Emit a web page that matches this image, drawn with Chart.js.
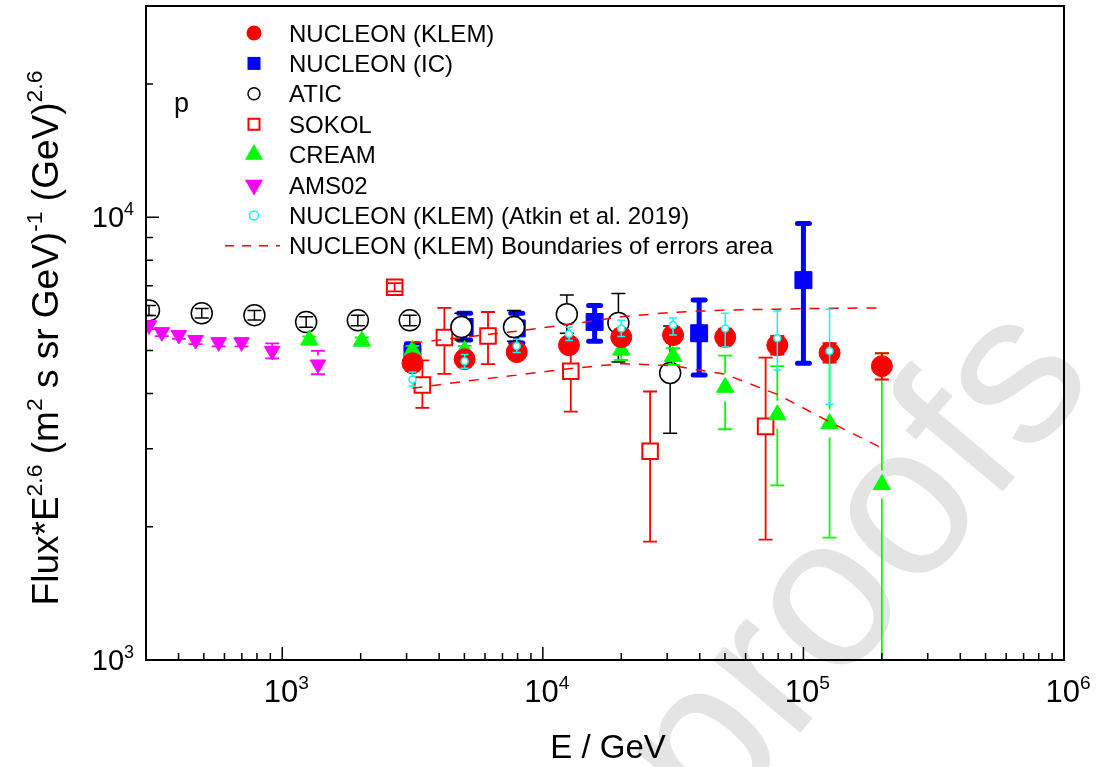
<!DOCTYPE html>
<html>
<head>
<meta charset="utf-8">
<script src="https://cdn.jsdelivr.net/npm/chart.js@4/dist/chart.umd.min.js"></script>
<style>
  html, body { margin: 0; padding: 0; background: #fff; }
</style>
</head>
<body>
<canvas id="fluxChart" width="1101" height="767"></canvas>
<script>
// energies in GeV, flux*E^2.6
const energyKlem = [3160, 5010, 7940, 12600, 20000, 31600, 50100, 79400, 126000, 200000];
const fluxKlem = [4680, 4780, 4960, 5140, 5360, 5420, 5360, 5140, 4940, 4610];
const klemLow = [4500, 4600, 4780, 4950, 5150, 5200, 5130, 4900, 4700, 4300];
const klemHigh = [4860, 4960, 5150, 5340, 5580, 5650, 5600, 5390, 5190, 4930];

const energyIc = [3160, 5010, 7940, 15800, 39800, 100000];
const fluxIc = [4930, 5650, 5610, 5800, 5470, 7210];
const icLow = [4700, 5280, 5200, 5250, 4400, 4680];
const icHigh = [5180, 6070, 6070, 6320, 6500, 9680];

const energyAtic = [308, 491, 782, 1235, 1950, 3085, 4870, 7750, 12360, 19500, 30800];
const fluxAtic = [6160, 6070, 6010, 5800, 5850, 5850, 5650, 5650, 6040, 5770, 4450];
const aticLow = [6000, 5920, 5860, 5640, 5690, 5690, 5280, 5250, 5470, 4710, 3250];
const aticHigh = [6320, 6220, 6160, 5960, 6010, 6010, 6070, 6160, 6670, 6730, 5680];

const energySokol = [2700, 3450, 4190, 6160, 12800, 25800, 71600];
const fluxSokol = [6950, 4180, 5350, 5390, 4490, 2960, 3370];
const sokolLow = [6800, 3710, 4430, 4660, 3640, 1850, 1870];
const sokolHigh = [7100, 4750, 6240, 6110, 5100, 4040, 4820];

const energyCream = [1270, 2020, 3160, 5010, 20000, 31600, 50100, 79400, 126000, 200000];
const fluxCream = [5280, 5250, 5010, 5000, 5010, 4850, 4130, 3580, 3420, 2490];
const creamLow = [5180, 5150, 4900, 4900, 4760, 4640, 3320, 2480, 1890, 700];
const creamHigh = [5380, 5350, 5120, 5120, 5270, 5060, 4870, 4610, 4750, 4930];

const energyAms = [308, 345, 401, 465, 570, 698, 915, 1372];
const fluxAms = [5700, 5500, 5420, 5280, 5220, 5220, 4990, 4650];
const amsLow = [5590, 5390, 5310, 5170, 5110, 5110, 4800, 4420];
const amsHigh = [5810, 5610, 5530, 5390, 5330, 5330, 5190, 4990];

const energyAtkin = [3160, 5010, 7940, 12600, 20000, 31600, 50100, 79400, 126000];
const fluxAtkin = [4300, 4730, 5120, 5450, 5610, 5710, 5610, 5330, 4990];
const atkinLow = [4160, 4560, 4950, 5270, 5380, 5420, 5090, 4520, 3780];
const atkinHigh = [4470, 4900, 5300, 5640, 5850, 5920, 6070, 6140, 6200];

const upperBound = [5200, 5360, 5530, 5730, 5960, 6100, 6170, 6200, 6230, 6240];
const lowerBound = [4110, 4260, 4400, 4550, 4670, 4620, 4420, 3980, 3450, 3010];

const xMajorTicks = [1e3, 1e4, 1e5, 1e6];
const yMajorTicks = [1e3, 1e4];

const FONT = 'Arial, "Liberation Sans", sans-serif';
const NARROW = '"Liberation Sans Narrow", "Arial Narrow", Arial, sans-serif';

function pts(xs, ys) {
  return xs.map((x, i) => ({ x: x, y: ys[i] }));
}

// text with superscripts: parts = [[text, isSup], ...]
function richWidth(ctx, parts, size, family) {
  let w = 0;
  parts.forEach(p => {
    ctx.font = (p[1] ? size * 0.62 : size) + 'px ' + family;
    w += ctx.measureText(p[0]).width;
  });
  return w;
}
function drawRich(ctx, parts, x, y, size, align, family) {
  const w = richWidth(ctx, parts, size, family);
  let cx = align === 'center' ? x - w / 2 : align === 'right' ? x - w : x;
  ctx.textAlign = 'left';
  ctx.textBaseline = 'alphabetic';
  parts.forEach(p => {
    const s = p[1] ? size * 0.62 : size;
    ctx.font = s + 'px ' + family;
    ctx.fillText(p[0], cx, p[1] ? y - size * 0.42 : y);
    cx += ctx.measureText(p[0]).width;
  });
}

function drawMarker(ctx, m, x, y) {
  ctx.beginPath();
  if (m.style === 'circle') {
    ctx.arc(x, y, m.r, 0, Math.PI * 2);
  } else if (m.style === 'rect') {
    ctx.rect(x - m.r, y - m.r, 2 * m.r, 2 * m.r);
  } else {
    const s = m.down ? -1 : 1;
    ctx.moveTo(x, y - s * m.r);
    ctx.lineTo(x + m.r * 0.866, y + s * m.r / 2);
    ctx.lineTo(x - m.r * 0.866, y + s * m.r / 2);
    ctx.closePath();
  }
  ctx.fillStyle = m.fill;
  ctx.fill();
  if (m.lw) {
    ctx.lineWidth = m.lw;
    ctx.strokeStyle = m.stroke;
    ctx.stroke();
  }
}

// light watermark behind the plot
const watermarkPlugin = {
  id: 'watermark',
  beforeDraw(chart) {
    const ctx = chart.ctx;
    ctx.save();
    ctx.fillStyle = '#fff';
    ctx.fillRect(0, 0, chart.width, chart.height);
    ctx.translate(1098, 378);
    ctx.rotate(-50 * Math.PI / 180);
    ctx.font = '215px ' + FONT;
    ctx.fillStyle = '#e4e4e4';
    ctx.textAlign = 'right';
    ctx.fillText('Journal Pre-proofs', 0, 0);
    ctx.restore();
  }
};

// vertical error bars with caps, drawn right after each dataset
const errorBarPlugin = {
  id: 'errorBars',
  afterDatasetDraw(chart, args) {
    const ds = chart.data.datasets[args.index];
    if (!ds.errLow) return;
    const { ctx, chartArea: a, scales: { x, y } } = chart;
    ctx.save();
    ctx.beginPath();
    ctx.rect(a.left, a.top, a.right - a.left, a.bottom - a.top);
    ctx.clip();
    ctx.strokeStyle = ds.errColor;
    ctx.lineWidth = ds.errWidth;
    ctx.lineCap = ds.errRound ? 'round' : 'butt';
    ds.data.forEach((p, i) => {
      const px = x.getPixelForValue(p.x);
      const yc = y.getPixelForValue(p.y);
      const yh = y.getPixelForValue(ds.errHigh[i]);
      const yl = y.getPixelForValue(ds.errLow[i]);
      ctx.beginPath();
      ctx.moveTo(px, yc - ds.errGap < yh ? yc : yc - ds.errGap);
      ctx.lineTo(px, yh);
      ctx.moveTo(px, yc + ds.errGap > yl ? yc : yc + ds.errGap);
      ctx.lineTo(px, yl);
      ctx.moveTo(px - ds.capHalf, yh);
      ctx.lineTo(px + ds.capHalf, yh);
      ctx.moveTo(px - ds.capHalf, yl);
      ctx.lineTo(px + ds.capHalf, yl);
      ctx.stroke();
    });
    ctx.restore();
  }
};

// frame, inward ticks, tick labels, titles and legend
const decorPlugin = {
  id: 'decor',
  afterDraw(chart) {
    const { ctx, chartArea: a, scales: { x, y } } = chart;
    ctx.save();
    ctx.strokeStyle = '#000';
    ctx.fillStyle = '#000';
    ctx.lineWidth = 2;
    ctx.strokeRect(a.left, a.top, a.right - a.left, a.bottom - a.top);

    ctx.lineWidth = 1.5;
    ctx.beginPath();
    for (let d = 100; d < 1e6; d *= 10) {
      for (let m = 1; m < 10; m++) {
        const v = d * m;
        if (v < x.min || v > x.max) continue;
        const px = x.getPixelForValue(v);
        const len = m === 1 ? 13 : 7;
        ctx.moveTo(px, a.bottom);
        ctx.lineTo(px, a.bottom - len);
      }
    }
    for (let d = 1000; d < 1e5; d *= 10) {
      for (let m = 1; m < 10; m++) {
        const v = d * m;
        if (v < y.min || v > y.max) continue;
        const py = y.getPixelForValue(v);
        const len = m === 1 ? 13 : 7;
        ctx.moveTo(a.left, py);
        ctx.lineTo(a.left + len, py);
      }
    }
    ctx.stroke();

    xMajorTicks.forEach(v => {
      const px = x.getPixelForValue(v);
      const ex = String(Math.round(Math.log10(v)));
      drawRich(ctx, [['10', false], [ex, true]], px + 4, 702, 31, 'center', NARROW);
    });
    yMajorTicks.forEach(v => {
      const py = y.getPixelForValue(v);
      const ex = String(Math.round(Math.log10(v)));
      drawRich(ctx, [['10', false], [ex, true]], 134, py + 10, 29, 'right', FONT);
    });

    drawRich(ctx, [['E / GeV', false]], 608, 758, 33, 'center', FONT);

    ctx.save();
    ctx.translate(58, 338);
    ctx.rotate(-Math.PI / 2);
    drawRich(ctx, [['Flux*E', false], ['2.6', true], [' (m', false], ['2', true],
      [' s sr GeV)', false], ['-1', true], [' (GeV)', false], ['2.6', true]], 0, 0, 37, 'center', FONT);
    ctx.restore();

    drawRich(ctx, [['p', false]], 174, 112, 27, 'left', FONT);

    // legend
    let row = 0;
    chart.data.datasets.forEach(ds => {
      if (!ds.legend) return;
      const ly = 33 + row * 30.4;
      if (ds.legend.style === 'dash') {
        ctx.save();
        ctx.strokeStyle = ds.borderColor;
        ctx.lineWidth = 1.5;
        ctx.setLineDash([9, 8]);
        ctx.beginPath();
        ctx.moveTo(225, ly);
        ctx.lineTo(280, ly);
        ctx.stroke();
        ctx.restore();
      } else {
        drawMarker(ctx, ds.legend, 254, ly);
      }
      ctx.fillStyle = '#000';
      drawRich(ctx, [[ds.label, false]], 289, ly + 8.5, 24, 'left', FONT);
      row++;
    });
    ctx.restore();
  }
};

const datasets = [
  {
    label: 'NUCLEON (KLEM)', data: pts(energyKlem, fluxKlem), order: 1,
    pointStyle: 'circle', pointRadius: 10.5, pointBackgroundColor: '#ff0000',
    pointBorderColor: '#ff0000', pointBorderWidth: 1,
    errLow: klemLow, errHigh: klemHigh, errColor: '#ff0000', errWidth: 2, errGap: 10, capHalf: 7,
    legend: { style: 'circle', r: 7.5, fill: '#ff0000' }
  },
  {
    label: 'NUCLEON (IC)', data: pts(energyIc, fluxIc), order: 6,
    pointStyle: 'rect', pointRadius: 12, pointBackgroundColor: '#0000ff',
    pointBorderColor: '#0000ff', pointBorderWidth: 1,
    errLow: icLow, errHigh: icHigh, errColor: '#0000ff', errWidth: 5, errRound: true, errGap: 8, capHalf: 6,
    legend: { style: 'rect', r: 6.5, fill: '#0000ff' }
  },
  {
    label: 'ATIC', data: pts(energyAtic, fluxAtic), order: 5,
    pointStyle: 'circle', pointRadius: 10.5, pointBackgroundColor: '#ffffff',
    pointBorderColor: '#000000', pointBorderWidth: 1.5,
    errLow: aticLow, errHigh: aticHigh, errColor: '#000000', errWidth: 1.5, errGap: 10.5, capHalf: 7,
    legend: { style: 'circle', r: 6, fill: '#ffffff', stroke: '#000', lw: 1.5 }
  },
  {
    label: 'SOKOL', data: pts(energySokol, fluxSokol), order: 7,
    pointStyle: 'rect', pointRadius: 11, pointBackgroundColor: '#ffffff',
    pointBorderColor: '#ff0000', pointBorderWidth: 2,
    errLow: sokolLow, errHigh: sokolHigh, errColor: '#ff0000', errWidth: 1.8, errGap: 8, capHalf: 7,
    legend: { style: 'rect', r: 5.5, fill: '#ffffff', stroke: '#ff0000', lw: 2 }
  },
  {
    label: 'CREAM', data: pts(energyCream, fluxCream), order: 3,
    pointStyle: 'triangle', pointRadius: 10, pointBackgroundColor: '#00ff00',
    pointBorderColor: '#00ff00', pointBorderWidth: 1,
    errLow: creamLow, errHigh: creamHigh, errColor: '#00ff00', errWidth: 1.8, errGap: 14, capHalf: 7,
    legend: { style: 'triangle', r: 10.5, fill: '#00ff00' }
  },
  {
    label: 'AMS02', data: pts(energyAms, fluxAms), order: 4,
    pointStyle: 'triangle', pointRotation: 180, pointRadius: 9, pointBackgroundColor: '#ff00ff',
    pointBorderColor: '#ff00ff', pointBorderWidth: 1,
    errLow: amsLow, errHigh: amsHigh, errColor: '#ff00ff', errWidth: 1.8, errGap: 9, capHalf: 7,
    legend: { style: 'triangle', r: 10.5, down: true, fill: '#ff00ff' }
  },
  {
    label: 'NUCLEON (KLEM) (Atkin et al. 2019)', data: pts(energyAtkin, fluxAtkin), order: 0,
    pointStyle: 'circle', pointRadius: 3.5, pointBackgroundColor: '#ffffff',
    pointBorderColor: '#00ffff', pointBorderWidth: 1.5,
    errLow: atkinLow, errHigh: atkinHigh, errColor: '#00ffff', errWidth: 1.5, errGap: 4, capHalf: 4,
    legend: { style: 'circle', r: 4.5, fill: '#ffffff', stroke: '#00ffff', lw: 1.5 }
  },
  {
    label: 'NUCLEON (KLEM) Boundaries of errors area', data: pts(energyKlem, upperBound), order: 2,
    showLine: true, pointRadius: 0, borderColor: '#ff0000', borderWidth: 1.5,
    borderDash: [10, 9], fill: false,
    legend: { style: 'dash' }
  },
  {
    label: 'lower boundary', data: pts(energyKlem, lowerBound), order: 2,
    showLine: true, pointRadius: 0, borderColor: '#ff0000', borderWidth: 1.5,
    borderDash: [10, 9], fill: false
  }
];

new Chart(document.getElementById('fluxChart'), {
  type: 'scatter',
  data: { datasets: datasets },
  options: {
    responsive: false,
    devicePixelRatio: 1,
    animation: false,
    events: [],
    layout: { autoPadding: false, padding: { left: 146, right: 37, top: 6, bottom: 107 } },
    scales: {
      x: { type: 'logarithmic', min: 300, max: 1e6, display: false },
      y: { type: 'logarithmic', min: 1000, max: 30000, display: false }
    },
    plugins: {
      legend: { display: false },
      tooltip: { enabled: false }
    }
  },
  plugins: [watermarkPlugin, errorBarPlugin, decorPlugin]
});
</script>
</body>
</html>
